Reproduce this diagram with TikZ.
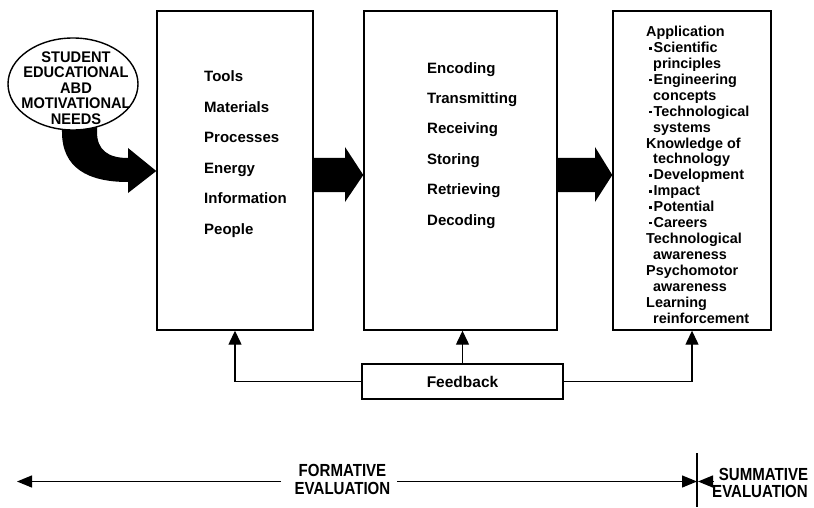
\documentclass[tikz,border=0pt]{standalone}
\usepackage{fontspec}
\setmainfont{Liberation Sans}
\newfontfamily\narrowA[FakeStretch=0.95]{Liberation Sans}
\newfontfamily\narrowB[FakeStretch=0.86]{Liberation Sans}
\usetikzlibrary{shapes.geometric,arrows.meta,calc}
\newcommand\bul{\rule[0.22em]{0.18em}{0.18em}\hspace{0.13em}}
\begin{document}
\begin{tikzpicture}[x=1pt,y=-1pt,
  panel/.style={draw, line width=1.4pt, inner sep=0pt, fill=white},
  itemtxt/.style={anchor=base west, inner sep=0pt, font=\bfseries\fontsize{15}{18}\selectfont},
  outtxt/.style={anchor=base west, inner sep=0pt, font=\bfseries\fontsize{14.4}{16}\selectfont},
  fbline/.style={line width=1.3pt, -{Triangle[width=13pt,length=14pt]}},
  evline/.style={line width=1.3pt, -{Triangle[width=12pt,length=15pt]}},
  evtxt/.style={inner sep=0pt, anchor=base, font=\narrowB\bfseries\fontsize{17.5}{17.5}\selectfont}
]
\useasboundingbox (0,0) rectangle (814,508);

% three stage panels
\node[panel, minimum width=156pt, minimum height=319pt] (inputs) at (235,170.5) {};
\node[panel, minimum width=193pt, minimum height=319pt] (process) at (460.5,170.5) {};
\node[panel, minimum width=158pt, minimum height=319pt] (outputs) at (692,170.5) {};

% curved arrow from the needs ellipse into the first panel
\fill (60,112) -- (62,132) .. controls (62,168) and (88,182) .. (128,182)
  -- (128,193) -- (inputs.west |- 0,171) -- (128,148) -- (128,158)
  .. controls (108,158) and (97,150) .. (97,132) -- (97,112) -- cycle;
\node[ellipse, draw, line width=1.4pt, fill=white, minimum width=130pt, minimum height=92pt] (needs) at (73,84) {};
\node[align=center, inner sep=0pt, font=\narrowA\bfseries\fontsize{15.4}{15.4}\selectfont] (needstxt) at (76,88)
  {STUDENT\\EDUCATIONAL\\ABD\\MOTIVATIONAL\\NEEDS};

% block arrows between panels
\fill (inputs.east |- 0,158) -- (345,158) -- (345,147) -- (process.west |- 0,175)
  -- (345,202) -- (345,192) -- (inputs.east |- 0,192) -- cycle;
\fill (process.east |- 0,158) -- (595,158) -- (595,147) -- (outputs.west |- 0,175)
  -- (595,202) -- (595,192) -- (process.east |- 0,192) -- cycle;

% panel contents
\foreach \lt [count=\i] in {Tools,Materials,Processes,Energy,Information,People}
  \node[itemtxt] (in\i) at (204,81.7+30.5*\i-30.5) {\lt};
\foreach \lt [count=\i] in {Encoding,Transmitting,Receiving,Storing,Retrieving,Decoding}
  \node[itemtxt] (pr\i) at (427,73.3+30.35*\i-30.35) {\lt};
\foreach \lx/\lt [count=\i] in {646/Application, 649/{\bul Scientific}, 653/principles,
  649/{\bul Engineering}, 653/concepts, 649/{\bul Technological}, 653/systems,
  646/Knowledge of, 653/technology, 649/{\bul Development}, 649/{\bul Impact},
  649/{\bul Potential}, 649/{\bul Careers}, 646/Technological, 653/awareness,
  646/Psychomotor, 653/awareness, 646/Learning, 653/reinforcement}
  \node[outtxt] (out\i) at (\lx,36.8+15.9*\i-15.9) {\lt};

% feedback loop
\node[panel, minimum width=201pt, minimum height=35pt, font=\bfseries\fontsize{15.5}{18}\selectfont] (fb) at (462.5,381.5) {Feedback};
\draw[fbline] (fb.west) -| (inputs.south);
\draw[fbline] (fb.north) -- (fb.north |- process.south);
\draw[fbline] (fb.east) -| (outputs.south);

% evaluation scale
\coordinate (fl) at (17,481.5);
\coordinate (fg1) at (281,481.5);
\coordinate (fg2) at (397,481.5);
\coordinate (fr) at (697,481.5);
\coordinate (sr) at (713,481.5);
\coordinate (sl) at (698,481.5);
\coordinate (dtop) at (697,453);
\coordinate (dbot) at (697,507);
\draw[evline] (fg1) -- (fl);
\draw[evline] (fg2) -- (fr);
\draw[evline] (sr) -- (sl);
\draw[line width=1.3pt] (dtop) -- (dbot);
\node[evtxt] (form1) at (342.5,476) {FORMATIVE};
\node[evtxt] (form2) at (342.5,494) {EVALUATION};
\node[evtxt] (summ1) at (763.5,480) {SUMMATIVE};
\node[evtxt] (summ2) at (760,497) {EVALUATION};
\end{tikzpicture}
\end{document}
